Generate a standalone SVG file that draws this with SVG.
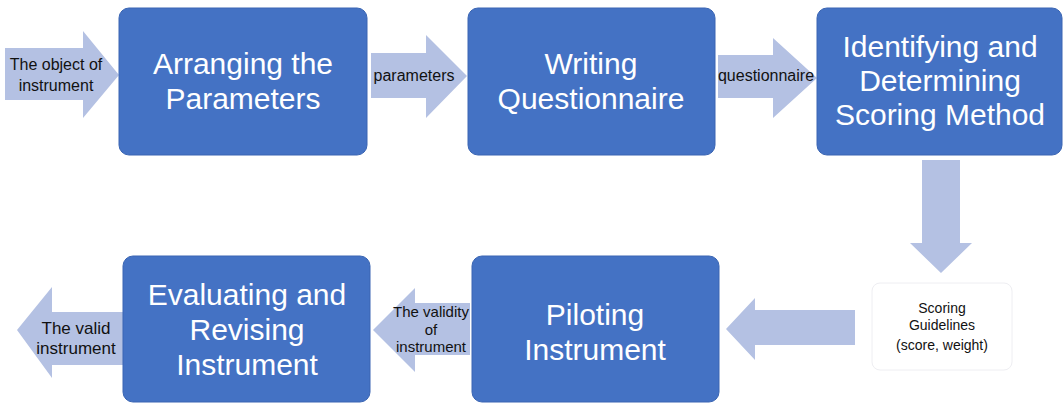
<svg xmlns="http://www.w3.org/2000/svg" width="1063" height="404" viewBox="0 0 1063 404">
<style>
.box{fill:#4472C4;stroke:#3A65B3;stroke-width:1}
.bt{font-family:"Liberation Sans",Arial,sans-serif;font-size:30px;fill:#fff;text-anchor:middle}
.arr{fill:#B4C1E3}
.st{font-family:"Liberation Sans",Arial,sans-serif;font-size:16px;fill:#111;text-anchor:middle}
.s15{font-size:15px}
.s14{font-size:14px}
.s17{font-size:17px}
</style>
<rect width="1063" height="404" fill="#fff"/>
<g id="connectors">
<polygon class="arr" points="5,48 83,48 83,31 119,75 83,118 83,100 5,100"/>
<polygon class="arr" points="371,53 426,53 426,35 467,76 426,118 426,98 371,98"/>
<polygon class="arr" points="718,55 773,55 773,38 817,78 773,118 773,98 718,98"/>
<polygon class="arr" points="922,160 960,160 960,243 972,243 941,273 910,243 922,243"/>
<polygon class="arr" points="855,310 755,310 755,298 726,329 755,360 755,345 855,345"/>
<polygon class="arr" points="470,303 415,303 415,288 373,330 415,372 415,355 470,355"/>
<polygon class="arr" points="125,312 52,312 52,287 17,330 52,378 52,365 125,365"/>
<text class="st"><tspan x="56" y="70">The object of</tspan><tspan x="56" y="91">instrument</tspan></text>
<text class="st" x="414" y="81">parameters</text>
<text class="st" x="766" y="81">questionnaire</text>
<text class="st s15"><tspan x="431" y="317">The validity</tspan><tspan x="431" y="334.5">of</tspan><tspan x="431" y="352">instrument</tspan></text>
<text class="st s17"><tspan x="76" y="334">The valid</tspan><tspan x="76" y="354">instrument</tspan></text>
</g>
<g id="n1"><rect class="box" x="119" y="8" width="248" height="147" rx="10"/><text class="bt"><tspan x="243" y="74">Arranging the</tspan><tspan x="243" y="109">Parameters</tspan></text></g>
<g id="n2"><rect class="box" x="468" y="8" width="247" height="147" rx="10"/><text class="bt"><tspan x="591" y="74">Writing</tspan><tspan x="591" y="109">Questionnaire</tspan></text></g>
<g id="n3"><rect class="box" x="817" y="8" width="245" height="147" rx="10"/><text class="bt"><tspan x="940" y="57">Identifying and</tspan><tspan x="940" y="91">Determining</tspan><tspan x="940" y="125">Scoring Method</tspan></text></g>
<g id="n4"><rect x="872" y="283" width="140" height="87" rx="8" fill="#fff" stroke="#EEEEF2" stroke-width="1"/><text class="st s14"><tspan x="942" y="313">Scoring</tspan><tspan x="942" y="330">Guidelines</tspan><tspan x="942" y="350">(score, weight)</tspan></text></g>
<g id="n5"><rect class="box" x="472" y="256" width="247" height="146" rx="10"/><text class="bt"><tspan x="595" y="325">Piloting</tspan><tspan x="595" y="360">Instrument</tspan></text></g>
<g id="n6"><rect class="box" x="123" y="256" width="247" height="146" rx="10"/><text class="bt"><tspan x="247" y="305">Evaluating and</tspan><tspan x="247" y="340">Revising</tspan><tspan x="247" y="375">Instrument</tspan></text></g>
</svg>
